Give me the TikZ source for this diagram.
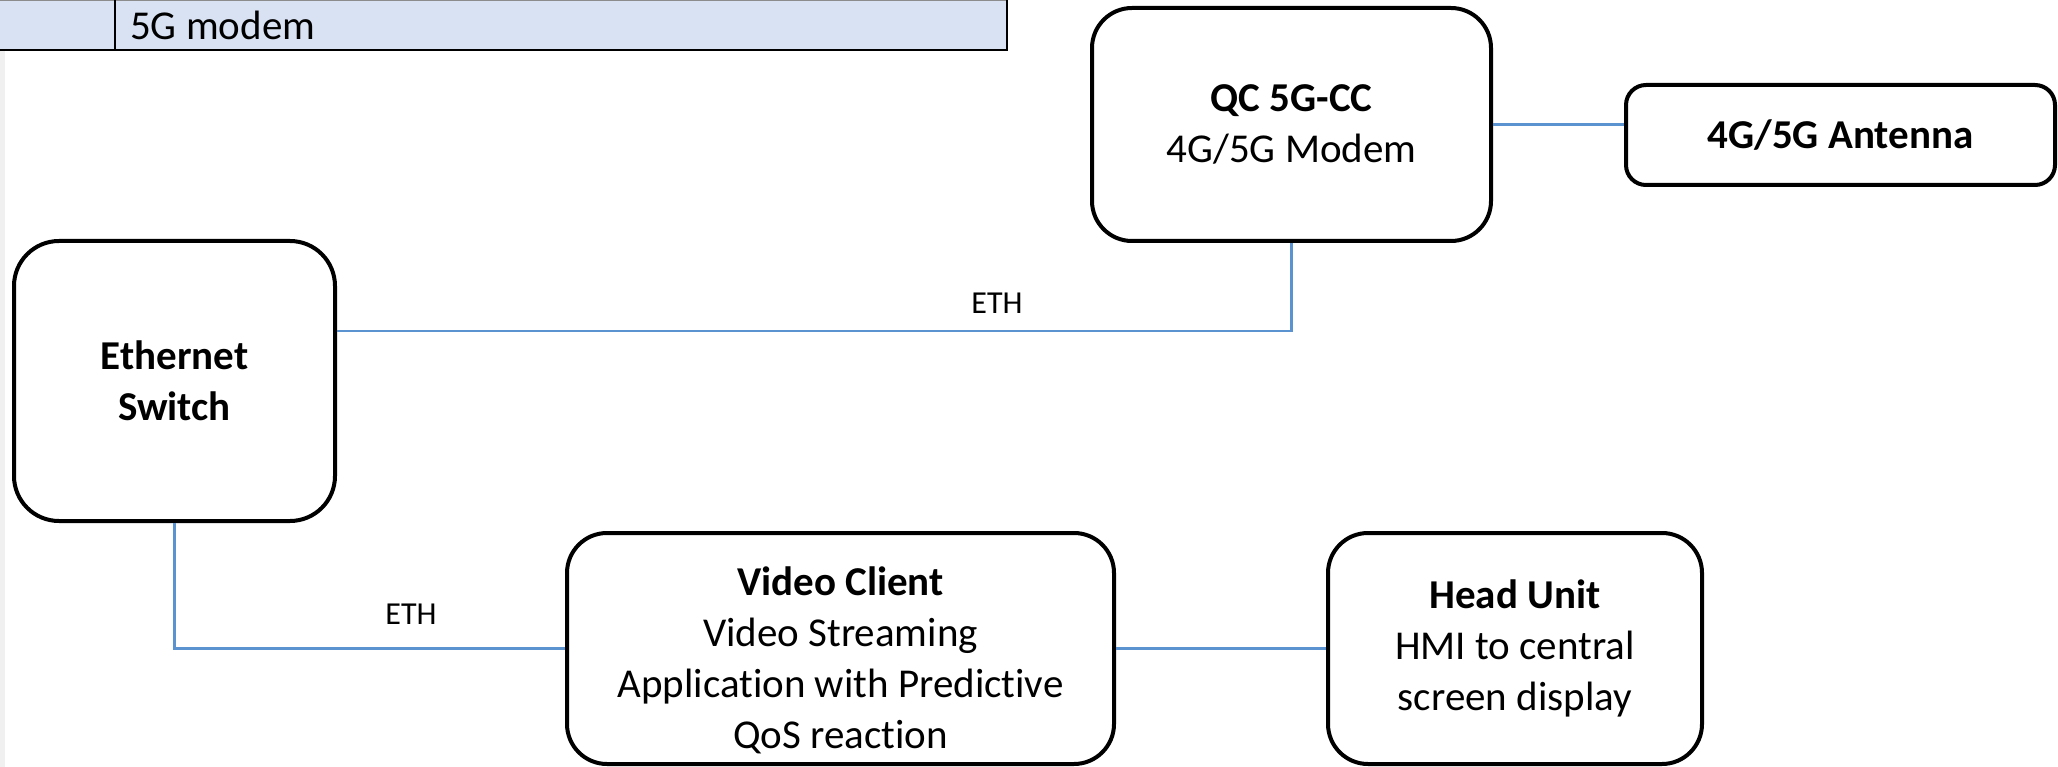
\documentclass[tikz,border=0pt]{standalone}
\usepackage{fontspec}
\setmainfont{Carlito}[Ligatures=NoCommon]
\definecolor{wire}{RGB}{91,146,208}
\definecolor{rowfill}{RGB}{217,226,243}
\definecolor{edgegray}{RGB}{240,240,240}
\begin{document}
\begin{tikzpicture}[x=1pt,y=-1pt,
  box/.style={draw=black, line width=4pt, rounded corners=#1, align=center,
    inner sep=0pt, font=\fontsize{41}{51}\selectfont},
  txt/.style={align=center, inner sep=0pt, font=\fontsize{41}{51}\selectfont},
  wire/.style={draw=wire, line width=2.5pt},
  ethlabel/.style={inner sep=0pt, font=\fontsize{32}{38}\selectfont}]
\useasboundingbox (0,0) rectangle (2058,767);
\fill[white] (0,0) rectangle (2058,767);

% page edge and the table row above the diagram
\fill[edgegray] (0,50) rectangle (5,767);
\fill[rowfill] (0,0) rectangle (1007,50);
\draw[black!45, line width=1.5pt] (0,0.75) -- (1007,0.75);
\draw[black, line width=2.5pt] (0,50) -- (1007,50) (1007,0) -- (1007,51.25)
  (115,0) -- (115,50);
\node[txt, anchor=west] (row) at (130,25) {5G modem};

% blocks
\node[box=40pt, minimum width=399pt, minimum height=233pt] (qc) at (1291.5,124.5)
  {\textbf{QC 5G-CC}\\4G/5G Modem};
\node[box=20pt, minimum width=429pt, minimum height=100pt] (ant) at (1840.5,135)
  {\textbf{4G/5G Antenna}};
\node[box=45pt, minimum width=321pt, minimum height=280pt] (sw) at (174.5,381)
  {\textbf{Ethernet}\\\textbf{Switch}};
\node[box=40pt, minimum width=547pt, minimum height=231pt] (vc) at (840.5,648.5) {};
\node[txt] (vct) at (840.5,660)
  {\textbf{Video Client}\\Video Streaming\\Application with Predictive\\QoS reaction};
\node[box=40pt, minimum width=374pt, minimum height=231pt] (hu) at (1515,648.5)
  {\textbf{Head Unit}\\HMI to central\\screen display};

% links
\draw[wire] (qc.east) -- (qc.east -| ant.west);
\draw[wire] ([yshift=50pt]sw.east) -| (qc.south);
\node[ethlabel] (eth1) at (997,303) {ETH};
\draw[wire] (sw.south) |- (vc.west);
\node[ethlabel] (eth2) at (411,614) {ETH};
\draw[wire] (vc.east) -- (hu.west);
\end{tikzpicture}
\end{document}
